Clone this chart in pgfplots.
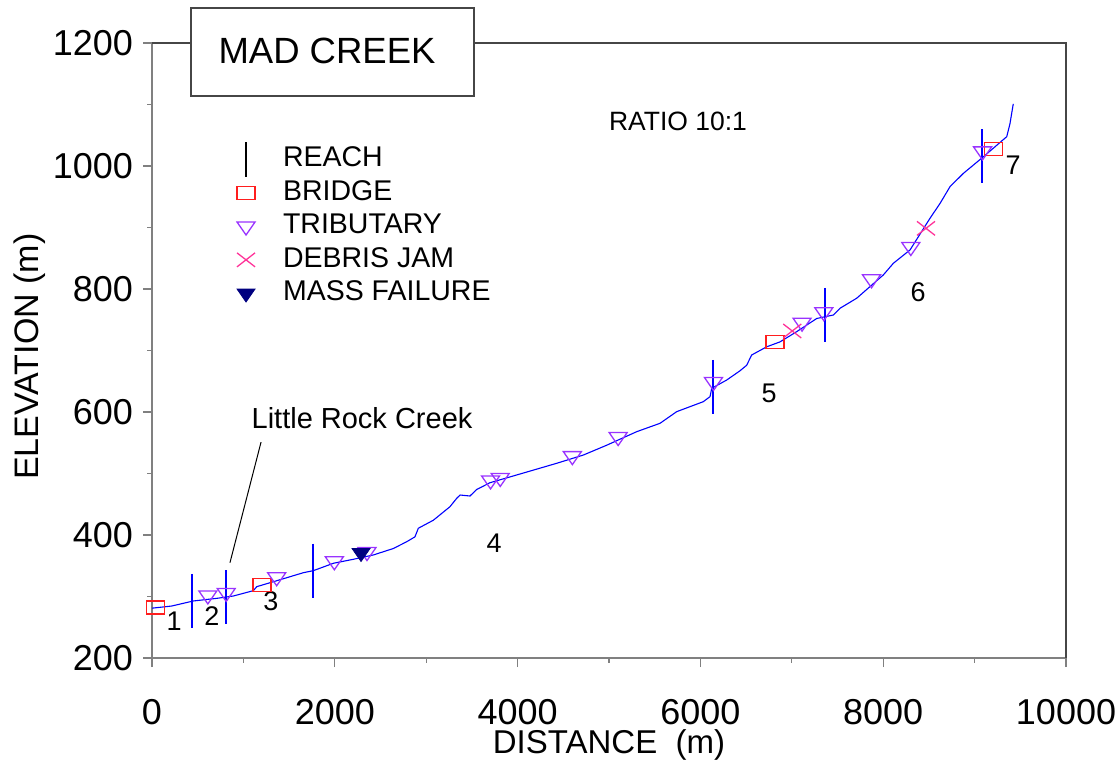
\documentclass[border=0pt]{standalone}
\usepackage{fontspec}
\setmainfont{Liberation Sans}
\usepackage{pgfplots}
\pgfplotsset{compat=1.18}
\definecolor{tribcol}{RGB}{153,51,255}
\definecolor{jamcol}{RGB}{255,51,153}
\definecolor{bridgecol}{RGB}{255,30,30}
\definecolor{axgray}{RGB}{128,128,128}
\definecolor{framedark}{RGB}{70,70,70}

\begin{document}
\begin{tikzpicture}
\begin{axis}[
  scale only axis, width=457pt, height=307.5pt,
  xmin=0, xmax=10000, ymin=200, ymax=1200,
  axis lines=left, axis line style={-, axgray, line width=0.7pt},
  xtick={0,2000,...,10000}, ytick={200,400,...,1200},
  minor x tick num=1, minor y tick num=1,
  tick align=outside, major tick length=4.5pt, minor tick length=2.5pt,
  tick style={axgray, line width=0.6pt},
  scaled ticks=false,
  /pgf/number format/1000 sep={},
  /pgf/number format/assume math mode=true,
  tick label style={font=\fontsize{18}{21}\selectfont},
  xticklabel style={yshift=-12.5pt},
  yticklabel style={xshift=-1.5pt},
  xlabel={DISTANCE\ \ (m)}, ylabel={ELEVATION (m)},
  xlabel style={font=\fontsize{16.5}{19}\selectfont, at={(rel axis cs:0.5,-0.142)}, anchor=center},
  ylabel style={font=\fontsize{17}{20}\selectfont, at={(rel axis cs:-0.1335,0.49)}, anchor=center},
  clip=false,
  legend cell align=left,
  legend style={draw=none, fill=none, inner sep=0pt, outer sep=0pt,
    at={(rel axis cs:0.0842,0.836)}, anchor=north west,
    font=\fontsize{14.25}{16}\selectfont, row sep=1.25pt,
    nodes={inner sep=1pt, text height=10.5pt, text depth=3pt},
    /tikz/every odd column/.append style={column sep=13pt}},
]
% reach marker in legend is black, in the plot blue
\addlegendimage{legend image code/.code={\draw[black, line width=0.6pt, overlay] (0.3cm,-8.75pt) -- (0.3cm,8.75pt);}}
\addlegendentry{REACH}

% stream profile
\addplot[blue, line width=0.55pt, forget plot] coordinates {
(0,281) (215,284.5) (452,292.7) (708,297) (890,300.8) (1109,309.5) (1146,316)
(1328,324) (1656,338.7) (1765,342) (1984,354) (2203,360.5) (2421,367.5)
(2640,378) (2786,389) (2877,397) (2914,411) (3078,424) (3260,446) (3334,459.7)
(3370,465) (3479,463.4) (3552,474) (3698,485) (3990,497.6) (4428,516.6)
(4719,530) (4975,546) (5303,568) (5558,581.6) (5740,600.5) (6032,616.8)
(6105,625) (6124,638.5) (6288,652) (6433,667) (6506,676) (6561,692.7)
(6725,706) (6871,714) (7053,730.6) (7272,752) (7454,757.7) (7527,768.6)
(7710,785) (8001,822.8) (8111,841.8) (8293,863.4) (8512,915) (8621,939)
(8731,966.4) (8877,988) (9096,1015) (9351,1047.6) (9387,1069) (9423,1101)};

% reach boundaries
\addplot[only marks, mark=|, mark size=13.5pt, draw=blue, mark options={draw=blue, line width=0.9pt}, forget plot] coordinates {
(441,293) (810,299) (1765,342) (6141,641) (7363,758) (9085,1016)};

\addplot[only marks, mark=square, mark size=3.25pt, draw=bridgecol, mark options={draw=bridgecol, xscale=1.385, line width=0.75pt}] coordinates {
(40,282) (1205,318.7) (6814,713.8) (9205,1028)};
\addlegendentry{BRIDGE}

\addplot[only marks, mark=triangle, mark size=4.33pt, tribcol, mark options={rotate=180, xscale=1.2, line width=0.65pt}] coordinates {
(611,302) (812,306) (1364,331.5) (1995,357.5) (2352,372.5) (3704,489) (3810,493)
(4599,528.5) (5100,559.5) (6143,649) (7112,745.5) (7350,762.5) (7872,816)
(8302,868.5) (9087,1024)};
\addlegendentry{TRIBUTARY}

\addplot[only marks, mark=x, mark size=4.95pt, jamcol, mark options={xscale=1.29, line width=0.65pt}] coordinates {
(7005,731.7) (8468,898.6)};
\addlegendentry{DEBRIS JAM}

\addplot[only marks, mark=triangle*, mark size=4.33pt, color={rgb,255:red,0;green,0;blue,128}, mark options={rotate=180, xscale=1.2}] coordinates {
(2287,371)};
\addlegendentry{MASS FAILURE}

% reach numbers and notes
\node[font=\fontsize{13.5}{16}\selectfont] at (axis cs:241,260) {1};
\node[font=\fontsize{13.5}{16}\selectfont] at (axis cs:656,268) {2};
\node[font=\fontsize{13.5}{16}\selectfont] at (axis cs:1302,293) {3};
\node[font=\fontsize{13.5}{16}\selectfont] at (axis cs:3742,387) {4};
\node[font=\fontsize{13.5}{16}\selectfont] at (axis cs:6751,631) {5};
\node[font=\fontsize{13.5}{16}\selectfont] at (axis cs:8381,795) {6};
\node[font=\fontsize{13.5}{16}\selectfont] at (axis cs:9420,1001.6) {7};
\node[font=\fontsize{13.25}{15}\selectfont] at (axis cs:5755,1073) {RATIO 10:1};
\node[font=\fontsize{14.5}{17}\selectfont] at (axis cs:2298,590) {Little Rock Creek};
\draw[black, line width=0.5pt] (axis cs:853,355) -- (axis cs:1193,551);

\coordinate (tl) at (rel axis cs:0,1);
\coordinate (tr) at (rel axis cs:1,1);
\coordinate (br) at (rel axis cs:1,0);
\coordinate (tb1) at (rel axis cs:0.0427,0.9138);
\coordinate (tb2) at (rel axis cs:0.3523,1.0569);
\coordinate (tt) at (rel axis cs:0.1915,0.987);
\coordinate (bb1) at (rel axis cs:-0.1663,-0.1805);
\coordinate (bb2) at (rel axis cs:1.0536,1.0699);
\end{axis}
\draw[framedark, line width=0.6pt] (tl) -- (tr) -- (br);
\draw[fill=white, draw=framedark, line width=0.6pt] (tb1) rectangle (tb2);
\node[font=\fontsize{18.25}{21}\selectfont] at (tt) {MAD CREEK};
\pgfresetboundingbox
\path[use as bounding box] (bb1) rectangle (bb2);
\end{tikzpicture}
\end{document}
